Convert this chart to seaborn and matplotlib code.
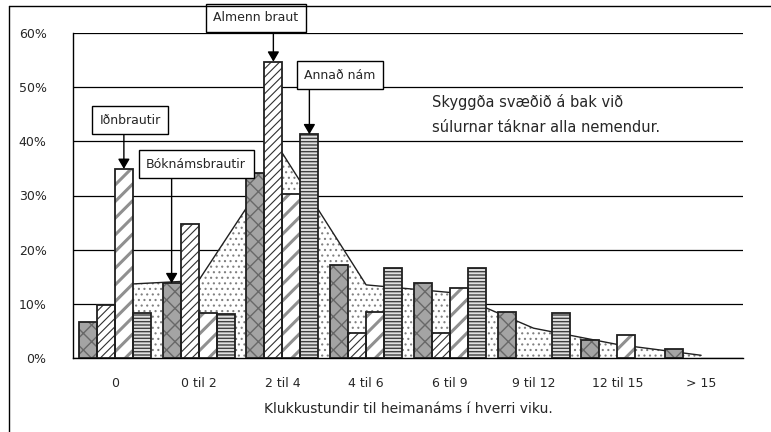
import numpy as np
import pandas as pd
import seaborn as sns
import matplotlib.pyplot as plt
from matplotlib.patches import Rectangle
from matplotlib.lines import Line2D
from matplotlib.ticker import FuncFormatter

# gögn (hlutfall nemenda, %)
categories = ["0", "0 til 2", "2 til 4", "4 til 6", "6 til 9", "9 til 12", "12 til 15", "> 15"]
series = ["Bóknámsbrautir", "Almenn braut", "Iðnbrautir", "Annað nám"]
boknam = [6.7, 13.8, 34.2, 17.2, 13.8, 8.5, 3.3, 1.7]
almenn = [9.8, 24.7, 54.7, 4.6, 4.6, 0, 0, 0]
idn = [34.9, 8.4, 30.3, 8.5, 13.0, 0, 4.2, 0]
annad = [8.3, 8.1, 41.3, 16.6, 16.6, 8.3, 0, 0]
allir = [13.5, 14.3, 37.8, 13.5, 12.1, 5.5, 2.5, 0.5]
yticks = [0, 10, 20, 30, 40, 50, 60]

df = pd.DataFrame({
    "flokkur": categories * len(series),
    "braut": np.repeat(series, len(categories)),
    "hlutfall": boknam + almenn + idn + annad,
})

sns.set_style("white")
plt.rcParams["font.family"] = ["DejaVu Sans"]
plt.rcParams["hatch.linewidth"] = 0.8

fig = plt.figure(figsize=(7.71, 4.32), dpi=100)
ax = fig.add_axes([73 / 771, 1 - 358 / 432, 670 / 771, 325 / 432])

sns.barplot(data=df, x="flokkur", y="hlutfall", hue="braut", order=categories,
            hue_order=series, width=0.86, legend=False, ax=ax, zorder=3,
            palette=["#a6a6a6", "white", "white", "#d0d0d0"])

# mynstur: (fylling, litur mynsturs, mynstur, línubreidd mynsturs)
styles = [("#a4a4a4", "#686868", "xx", 1.0),
          ("white", "#303030", "////", 0.8),
          ("white", "#909090", "//", 2.2),
          ("#e0e0e0", "#404040", "-----", 1.0)]
for cont, (fc, hc, hatch, hlw) in zip(ax.containers, styles):
    for p in cont:
        p.set_facecolor(fc)
        p.set_edgecolor(hc)
        p.set_hatch(hatch)
        if hasattr(p, "set_hatch_linewidth"):
            p.set_hatch_linewidth(hlw)
        p.set_linewidth(0)
        if p.get_height() > 0:
            ax.add_patch(Rectangle((p.get_x(), p.get_y()), p.get_width(), p.get_height(),
                                   fill=False, edgecolor="#202020", lw=1.3, zorder=3.5))

# skyggða svæðið = allir nemendur
xs = np.arange(len(categories))
ax.fill_between(xs, allir, facecolor="white", edgecolor="#808080", hatch="...",
                linewidth=0, zorder=1.5)
ax.plot(xs, allir, color="#202020", lw=1, zorder=1.6)

ax.set_xlim(-0.5, len(categories) - 0.5)
ax.set_ylim(0, 60)
ax.set_yticks(yticks)
ax.yaxis.set_major_formatter(FuncFormatter(lambda v, _: f"{v:.0f}%"))
ax.yaxis.grid(True, color="black", lw=0.9)
ax.set_axisbelow(True)
ax.set_xticks(np.arange(-0.5, len(categories)), minor=True)
ax.tick_params(axis="x", which="major", length=0, pad=14, labelsize=9)
ax.tick_params(axis="x", which="minor", length=5, width=1, color="black", direction="out")
ax.tick_params(axis="y", length=5, width=1, color="black", direction="out", pad=14, labelsize=9)
for s in ["top", "right"]:
    ax.spines[s].set_visible(False)
for s in ["left", "bottom"]:
    ax.spines[s].set_color("black")
    ax.spines[s].set_linewidth(1)
ax.set_xlabel("Klukkustundir til heimanáms í hverri viku.", fontsize=10, labelpad=8)
ax.set_ylabel("")

# merkingar með örvum
labels = [(2, 0, "Iðnbrautir", 0.18, 43.9, 41.5),
          (0, 1, "Bóknámsbrautir", 0.97, 35.8, 33.5),
          (1, 2, "Almenn braut", 1.685, 62.8, 60.7),
          (3, 2, "Annað nám", 2.69, 52.2, 49.8)]
for si, ci, txt, tx, ty, ybot in labels:
    p = ax.containers[si][ci]
    bx = p.get_x() + p.get_width() / 2
    ax.text(tx, ty, txt, ha="center", va="center", fontsize=9, zorder=6, clip_on=False,
            bbox=dict(boxstyle="square,pad=0.6", fc="white", ec="black", lw=1))
    ax.annotate("", xy=(bx, p.get_height()), xytext=(bx, ybot), zorder=5,
                arrowprops=dict(arrowstyle="-|>,head_length=0.6,head_width=0.35",
                                color="black", lw=1, mutation_scale=10,
                                shrinkA=0, shrinkB=0))

ax.text(3.79, 44.9, "Skyggða svæðið á bak við\nsúlurnar táknar alla nemendur.",
        ha="left", va="center", fontsize=10.5, linespacing=1.8, zorder=6)

# rammi utan um myndina
fig.add_artist(Line2D([9 / 771, 9 / 771], [0, 1 - 6 / 432], transform=fig.transFigure,
                      color="black", lw=1))
fig.add_artist(Line2D([9 / 771, 1], [1 - 6 / 432, 1 - 6 / 432], transform=fig.transFigure,
                      color="black", lw=1))

fig.savefig("out.png", dpi=100)
